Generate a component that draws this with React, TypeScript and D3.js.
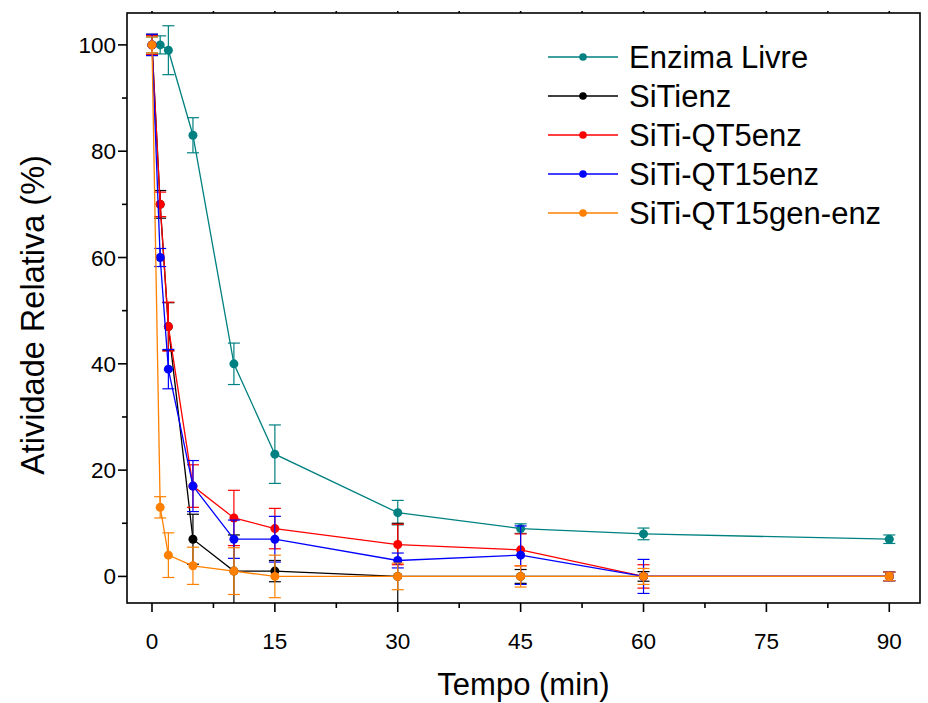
import React from "react";
import * as d3 from "d3";

// Sampling times (min)
const times = [0, 1, 2, 5, 10, 15, 30, 45, 60, 90];

// Relative activity (%) and standard deviations per sample
const enzimaLivre = [100, 100, 99, 83, 40, 23, 12, 9, 8, 7];
const enzimaLivreErr = [1.5, 1.7, 4.6, 3.3, 3.9, 5.5, 2.3, 0.9, 1.1, 0.8];

const siTienz = [100, 70, 47, 7, 1, 1, 0, 0, 0, 0];
const siTienzErr = [2, 2.6, 4.5, 4.7, 6.8, 2, 10, 1.3, 0.9, 0.8];

const siTiQT5 = [100, 70, 47, 17, 11, 9, 6, 5, 0, 0];
const siTiQT5Err = [1.8, 2.3, 4.6, 4, 5.2, 3.8, 3.8, 3, 2.2, 0.8];

const siTiQT15 = [100, 60, 39, 17, 7, 7, 3, 4, 0, 0];
const siTiQT15Err = [2, 1.7, 3.7, 4.8, 3.6, 4.3, 1.4, 5.5, 3.2, 0.8];

const siTiQT15gen = [100, 13, 4, 2, 1, 0, 0, 0, 0, 0];
const siTiQT15genErr = [1.5, 2, 4.2, 3.5, 4.4, 4, 2.5, 2, 1.5, 0.8];

const seriesNames = ["Enzima Livre", "SiTienz", "SiTi-QT5enz", "SiTi-QT15enz", "SiTi-QT15gen-enz"];
const seriesColors = ["#008080", "#000000", "#ff0000", "#0000ff", "#ff8000"];
const seriesValues = [enzimaLivre, siTienz, siTiQT5, siTiQT15, siTiQT15gen];
const seriesErrors = [enzimaLivreErr, siTienzErr, siTiQT5Err, siTiQT15Err, siTiQT15genErr];

const xMajorTicks = [0, 15, 30, 45, 60, 75, 90];
const xMinorTicks = [7.5, 22.5, 37.5, 52.5, 67.5, 82.5];
const yMajorTicks = [0, 20, 40, 60, 80, 100];
const yMinorTicks = [10, 30, 50, 70, 90];

const W = 928;
const H = 703;
const FONT = "'Liberation Sans', Arial, sans-serif";

export default function App() {
  const left = 127, right = 920, top = 13, bottom = 603;
  const x = d3.scaleLinear().domain([-3.05, 93.75]).range([left, right]);
  const y = d3.scaleLinear().domain([-5, 106]).range([bottom, top]);

  const line = d3
    .line<[number, number]>()
    .x((d) => x(d[0]))
    .y((d) => y(d[1]));

  const capHalf = 6;

  return (
    <svg
      width={W}
      height={H}
      style={{ position: "absolute", left: 0, top: 0, background: "#fff" }}
      fontFamily={FONT}
    >
      <defs>
        <clipPath id="plotArea">
          <rect x={left} y={top} width={right - left} height={bottom - top} />
        </clipPath>
      </defs>
      <rect x={0} y={0} width={W} height={H} fill="#fff" />

      {/* series: lines, error bars, markers */}
      <g clipPath="url(#plotArea)">
        {seriesValues.map((vals, si) => {
          const color = seriesColors[si];
          const errs = seriesErrors[si];
          const pts = times.map((t, i) => [t, vals[i]] as [number, number]);
          return (
            <g key={si}>
              <path d={line(pts) || ""} fill="none" stroke={color} strokeWidth={1.3} />
              {pts.map(([t, v], i) => {
                const e = errs[i];
                const cx = x(t);
                const y1 = y(v + e);
                const y2 = y(v - e);
                return (
                  <g key={i} stroke={color} strokeWidth={1.2}>
                    <line x1={cx} x2={cx} y1={y1} y2={y2} />
                    <line x1={cx - capHalf} x2={cx + capHalf} y1={y1} y2={y1} />
                    <line x1={cx - capHalf} x2={cx + capHalf} y1={y2} y2={y2} />
                  </g>
                );
              })}
              {pts.map(([t, v], i) => (
                <circle key={"m" + i} cx={x(t)} cy={y(v)} r={4.5} fill={color} />
              ))}
            </g>
          );
        })}
      </g>

      {/* frame */}
      <rect
        x={left}
        y={top}
        width={right - left}
        height={bottom - top}
        fill="none"
        stroke="#000"
        strokeWidth={1.6}
      />

      {/* axis ticks */}
      <g stroke="#000" strokeWidth={1.6}>
        {xMajorTicks.map((t) => (
          <line key={"xM" + t} x1={x(t)} x2={x(t)} y1={bottom} y2={bottom + 9} />
        ))}
        {xMinorTicks.map((t) => (
          <line key={"xm" + t} x1={x(t)} x2={x(t)} y1={bottom} y2={bottom + 5} />
        ))}
        {xMajorTicks.concat(xMinorTicks).map((t) => (
          <line key={"xt" + t} x1={x(t)} x2={x(t)} y1={top} y2={top - 2} />
        ))}
        {yMajorTicks.map((v) => (
          <line key={"yM" + v} x1={left} x2={left - 9} y1={y(v)} y2={y(v)} />
        ))}
        {yMinorTicks.map((v) => (
          <line key={"ym" + v} x1={left} x2={left - 5} y1={y(v)} y2={y(v)} />
        ))}
      </g>

      {/* tick labels */}
      <g fontSize={22.5} fill="#000">
        {xMajorTicks.map((t) => (
          <text key={"xl" + t} x={x(t)} y={bottom + 46} textAnchor="middle">
            {t}
          </text>
        ))}
        {yMajorTicks.map((v) => (
          <text key={"yl" + v} x={left - 11} y={y(v) + 8} textAnchor="end">
            {v}
          </text>
        ))}
      </g>

      {/* axis titles */}
      <text x={(left + right) / 2} y={695} textAnchor="middle" fontSize={31} fill="#000">
        Tempo (min)
      </text>
      <text
        transform={`translate(${44},${315}) rotate(-90)`}
        textAnchor="middle"
        fontSize={32.5}
        fill="#000"
      >
        Atividade Relativa (%)
      </text>

      {/* legend */}
      <g>
        {seriesNames.map((name, i) => {
          const ly = 57 + i * 39;
          return (
            <g key={name}>
              <line x1={548} x2={618} y1={ly} y2={ly} stroke={seriesColors[i]} strokeWidth={1.3} />
              <circle cx={583} cy={ly} r={3.8} fill={seriesColors[i]} />
              <text x={629} y={ly + 11} fontSize={31} fill="#000">
                {name}
              </text>
            </g>
          );
        })}
      </g>
    </svg>
  );
}
